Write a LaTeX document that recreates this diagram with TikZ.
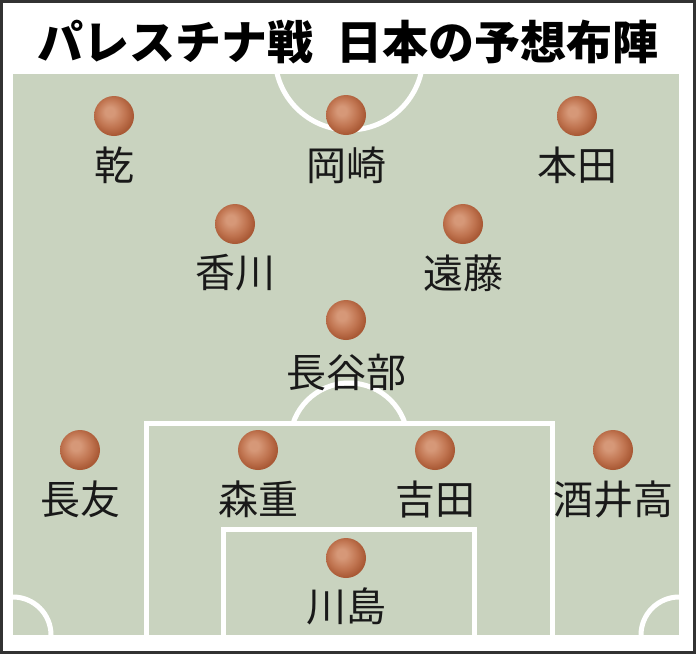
\documentclass[tikz,border=0pt]{standalone}
\usepackage{fontspec}
\newfontfamily\jp{Noto Sans CJK JP}
\definecolor{fieldgreen}{RGB}{201,211,191}
\definecolor{ballhi}{RGB}{214,152,120}
\definecolor{ballmid}{RGB}{192,116,80}
\definecolor{balldark}{RGB}{168,88,52}
\definecolor{framegray}{RGB}{50,50,50}
\pgfdeclareradialshading{ballshade}{\pgfpoint{-6bp}{6bp}}{color(0bp)=(ballhi); color(6bp)=(ballhi); color(18bp)=(ballmid); color(27bp)=(balldark); color(50bp)=(balldark)}
\begin{document}
\begin{tikzpicture}[x=1pt,y=-1pt,
  fieldline/.style={white, line width=5pt},
  player/.style={circle, minimum size=40pt, inner sep=0pt, shade, shading=ballshade},
  pname/.style={font=\jp\fontsize{40}{40}\selectfont, inner sep=0pt, text=black!90},
  titletext/.style={font=\jp\bfseries\fontsize{46}{46}\selectfont, inner sep=0pt, text=black}
]
\useasboundingbox (0,0) rectangle (696,654);
\fill[white] (0,0) rectangle (696,654);
\fill[fieldgreen] (13,74) rectangle (679,635);
\begin{scope}
  \clip (13,74) rectangle (679,635);
  \draw[fieldline] (349,56) circle (74pt);
  \draw[fieldline] (13,635) circle (38pt);
  \draw[fieldline] (679,635) circle (38pt);
\end{scope}
\begin{scope}
  \clip (0,0) rectangle (696,423);
  \draw[fieldline] (349,442) circle (59pt);
\end{scope}
\draw[fieldline] (146,637) -- (146,423) -- (552,423) -- (552,637);
\draw[fieldline] (223,637) -- (223,529) -- (474,529) -- (474,637);
\draw[framegray, line width=3pt] (1.5,1.5) rectangle (694.5,652.5);

\node[titletext] (title) at (348,42) {パレスチナ戦\hspace{0.5em}日本の予想布陣};

\node[player] (b1) at (114,116) {};
\node[player] (b2) at (346,115) {};
\node[player] (b3) at (577,116) {};
\node[player] (b4) at (235,224) {};
\node[player] (b5) at (463,224) {};
\node[player] (b6) at (346,320) {};
\node[player] (b7) at (80,450) {};
\node[player] (b8) at (258,450) {};
\node[player] (b9) at (435,450) {};
\node[player] (b10) at (613,450) {};
\node[player] (b11) at (346,558) {};

\node[pname] (n1) at (114,165) {乾};
\node[pname] (n2) at (346,165) {岡崎};
\node[pname] (n3) at (577,165) {本田};
\node[pname] (n4) at (235,273) {香川};
\node[pname] (n5) at (463,273) {遠藤};
\node[pname] (n6) at (346,372) {長谷部};
\node[pname] (n7) at (80,499) {長友};
\node[pname] (n8) at (258,499) {森重};
\node[pname] (n9) at (435,499) {吉田};
\node[pname] (n10) at (613,499) {酒井高};
\node[pname] (n11) at (346,606) {川島};
\end{tikzpicture}
\end{document}
